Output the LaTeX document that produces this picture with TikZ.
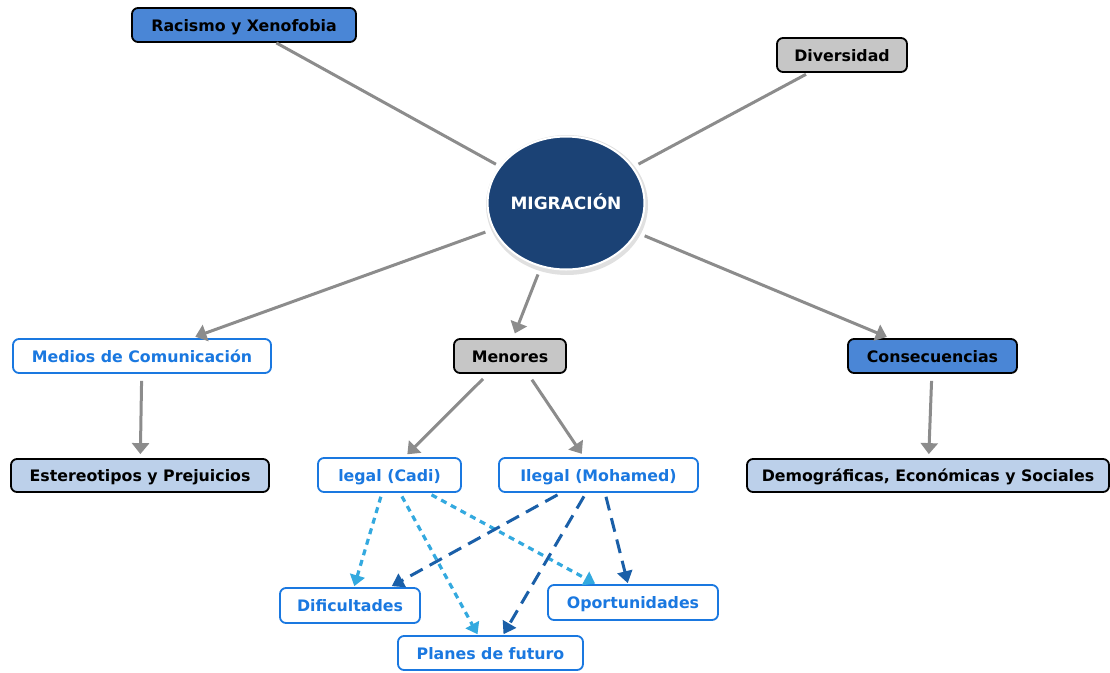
\documentclass[tikz,border=0pt]{standalone}
\usepackage{fontspec}
\setmainfont{DejaVu Sans}
\usetikzlibrary{arrows.meta,shapes.geometric}
\definecolor{boxblue}{HTML}{4A86D6}
\definecolor{boxgray}{HTML}{C6C6C6}
\definecolor{boxlight}{HTML}{BCD0EA}
\definecolor{navy}{HTML}{1B4275}
\definecolor{txtblue}{HTML}{1A78E0}
\definecolor{lightdash}{HTML}{33A9DF}
\definecolor{darkdash}{HTML}{1A5FA8}
\definecolor{linegray}{HTML}{8C8C8C}
\tikzset{
  base/.style={rounded corners=6pt, line width=1.8pt, minimum height=34pt, inner sep=0pt,
    text height=12.5pt, text depth=0pt,
    font=\fontsize{15.8}{18}\selectfont\bfseries, align=center},
  bluebox/.style={base, draw=black, fill=boxblue, text=black},
  graybox/.style={base, draw=black, fill=boxgray, text=black},
  lightbox/.style={base, draw=black, fill=boxlight, text=black},
  whitebox/.style={base, draw=txtblue, fill=white, text=txtblue},
  conn/.style={draw=linegray, line width=3pt},
  connarrow/.style={conn, -{Triangle[width=17pt,length=11pt]}},
  lightarrow/.style={draw=lightdash, line width=3.2pt, dash pattern=on 6pt off 5pt,
    -{Triangle[width=15pt,length=11pt]}},
  darkarrow/.style={draw=darkdash, line width=3pt, dash pattern=on 14pt off 8pt,
    -{Triangle[width=15pt,length=12pt]}},
}
\begin{document}
\begin{tikzpicture}[x=1pt,y=-1pt]
\useasboundingbox (0,0) rectangle (1110,672);
% central ellipse with soft shadow
\fill[black!12] (567,205) ellipse [x radius=81pt, y radius=70pt];
\node[ellipse, draw=white, line width=2pt, fill=navy, minimum width=156pt, minimum height=133pt,
  inner sep=0pt, text height=12.5pt, text depth=0pt, text=white,
  font=\fontsize{17}{20}\selectfont\bfseries] (mig) at (566,203) {MIGRACIÓN};

\node[bluebox, minimum width=224pt] (rac) at (244,25) {Racismo y Xenofobia};
\node[graybox, minimum width=130pt] (div) at (842,55) {Diversidad};
\node[whitebox, minimum width=258pt] (med) at (142,356) {Medios de Comunicación};
\node[graybox, minimum width=112pt] (men) at (510,356) {Menores};
\node[bluebox, minimum width=169pt] (con) at (932.5,356) {Consecuencias};
\node[lightbox, minimum width=258pt, minimum height=33pt] (est) at (140,475.5) {Estereotipos y Prejuicios};
\node[whitebox, minimum width=143pt] (cadi) at (389.5,475) {legal (Cadi)};
\node[whitebox, minimum width=199pt] (moh) at (598.5,475) {Ilegal (Mohamed)};
\node[lightbox, minimum width=362pt, minimum height=33pt] (dem) at (928,475.5) {Demográficas, Económicas y Sociales};
\node[whitebox, minimum width=140pt, minimum height=35pt] (dif) at (350,605.5) {Dificultades};
\node[whitebox, minimum width=170pt, minimum height=35pt] (opo) at (633,602.5) {Oportunidades};
\node[whitebox, minimum width=185pt] (pla) at (490.5,653) {Planes de futuro};

% gray connectors
\draw[conn, shorten >=4pt] (rac) -- (mig);
\draw[conn, shorten >=6pt, shorten <=3pt] (div) -- (mig);
\draw[connarrow, shorten <=8pt, shorten >=4pt] (mig) -- (med);
\draw[connarrow, shorten <=8pt, shorten >=5pt] (mig) -- ([xshift=3pt]men.north);
\draw[connarrow, shorten <=8pt, shorten >=3pt] (mig) -- (con);
\draw[connarrow, shorten <=7pt, shorten >=4pt] (med) -- (est);
\draw[connarrow, shorten <=7pt, shorten >=4pt] ([xshift=-22pt]men.south) -- ([xshift=15pt]cadi.north);
\draw[connarrow, shorten <=7pt, shorten >=4pt] ([xshift=18pt]men.south) -- ([xshift=-14.5pt]moh.north);
\draw[connarrow, shorten <=7pt, shorten >=4pt] (con) -- (dem);

% dashed connectors
\draw[lightarrow, shorten <=4pt, shorten >=1pt] ([xshift=-7.5pt]cadi.south) -- ([xshift=4pt]dif.north);
\draw[lightarrow, shorten <=4pt, shorten >=1pt] ([xshift=10.5pt]cadi.south) -- ([xshift=-12.5pt]pla.north);
\draw[lightarrow, shorten <=4pt, shorten >=1pt] ([xshift=38.5pt]cadi.south) -- ([xshift=-37pt]opo.north);
\draw[darkarrow, shorten <=4pt, shorten >=2pt] ([xshift=-37.5pt]moh.south) -- ([xshift=40pt]dif.north);
\draw[darkarrow, shorten <=4pt, shorten >=1pt] ([xshift=-12.5pt]moh.south) -- ([xshift=12.5pt]pla.north);
\draw[darkarrow, shorten <=4pt, shorten >=1pt] ([xshift=6.5pt]moh.south) -- ([xshift=-5pt]opo.north);
\end{tikzpicture}
\end{document}
